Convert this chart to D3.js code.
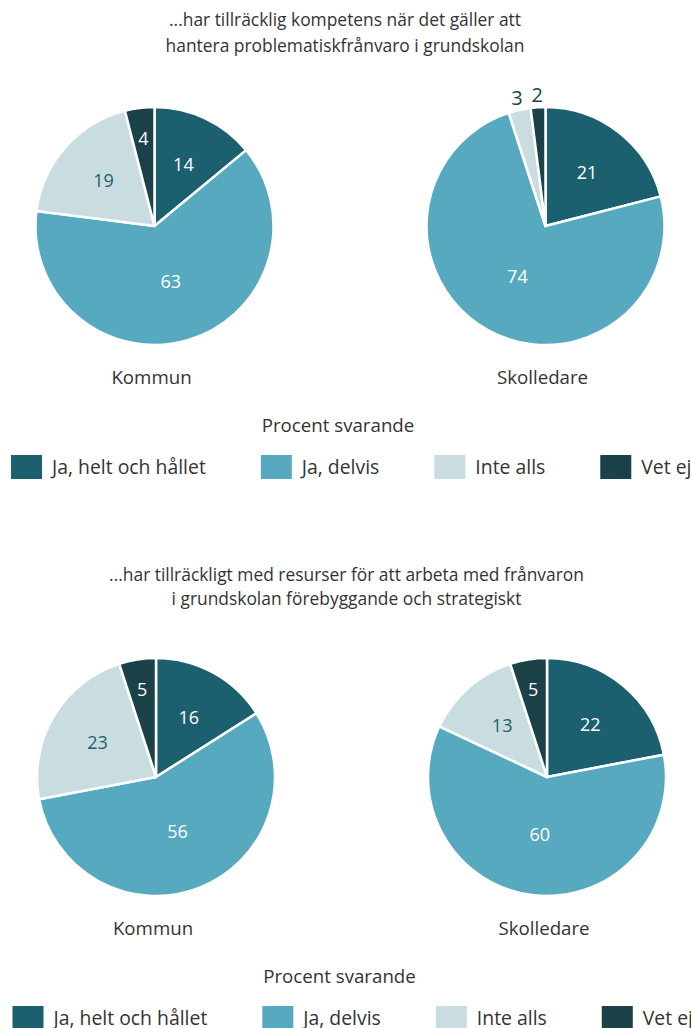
<!DOCTYPE html>
<html>
<head>
<meta charset="utf-8">
<script src="https://cdn.jsdelivr.net/npm/d3@7"></script>
<style>
  body { margin: 0; background: #fff; }
  svg { display: block; font-family: "Open Sans", "Noto Sans", sans-serif; }
</style>
</head>
<body>
<div id="chart"></div>
<script>
const width = 691;
const height = 1028;

const categories = ["Ja, helt och hållet", "Ja, delvis", "Inte alls", "Vet ej"];
const colors = ["#1c6070", "#57a9c0", "#c9dde1", "#1a4248"];
const labelColors = ["#ffffff", "#ffffff", "#1c6070", "#ffffff"];
const groups = ["Kommun", "Skolledare"];

const kompetensKommun = [14, 63, 19, 4];
const kompetensSkolledare = [21, 74, 3, 2];
const resurserKommun = [16, 56, 23, 5];
const resurserSkolledare = [22, 60, 13, 5];

const kompetensTitle = ["...har tillräcklig kompetens när det gäller att", "hantera problematiskfrånvaro i grundskolan"];
const resurserTitle = ["...har tillräckligt med resurser för att arbeta med frånvaron", "i grundskolan förebyggande och strategiskt"];
const unitLabel = "Procent svarande";

const radius = 119;
const textColor = "#333333";

const svg = d3.select('#chart')
  .append('svg')
  .attr('width', width)
  .attr('height', height);

const pie = d3.pie().sort(null).value((d) => d);
const arc = d3.arc().innerRadius(0).outerRadius(radius);

// where to put a slice label, depending on slice size
const labelRadius = (v) => v < 4 ? radius + 12 : v < 10 ? radius * 0.74 : v < 50 ? radius * 0.57 : radius * 0.49;

const drawPie = (g, values) => {
  const slices = pie(values);
  g.selectAll('path')
    .data(slices)
    .enter()
    .append('path')
    .attr('d', arc)
    .attr('fill', (d, i) => colors[i])
    .attr('stroke', '#fff')
    .attr('stroke-width', 2.5)
    .attr('stroke-linejoin', 'round');

  g.selectAll('text.val')
    .data(slices)
    .enter()
    .append('text')
    .attr('class', 'val')
    .attr('transform', (d) => {
      const a = (d.startAngle + d.endAngle) / 2;
      const r = labelRadius(d.value);
      return `translate(${Math.sin(a) * r},${-Math.cos(a) * r})`;
    })
    .attr('dy', '0.35em')
    .attr('text-anchor', 'middle')
    .attr('font-size', (d) => d.value < 4 ? 20 : 18)
    .attr('fill', (d, i) => d.value < 4 ? '#1a4248' : labelColors[i])
    .text((d) => d.value);
};

const drawLegend = (g) => {
  let x = 0;
  categories.forEach((c, i) => {
    g.append('rect')
      .attr('x', x)
      .attr('y', -12)
      .attr('width', 31)
      .attr('height', 24)
      .attr('fill', colors[i]);
    const t = g.append('text')
      .attr('x', x + 41)
      .attr('dy', '0.35em')
      .attr('font-size', 19.4)
      .attr('fill', textColor)
      .text(c);
    x = x + 41 + t.node().getComputedTextLength() + 55;
  });
};

const drawPanel = (top, title, kommun, skolledare, shift, titleShift) => {
  const p = svg.append('g').attr('transform', `translate(${shift},${top})`);

  p.selectAll('text.title')
    .data(title)
    .enter()
    .append('text')
    .attr('class', 'title')
    .attr('x', 345)
    .attr('y', (d, i) => 26 + titleShift + i * (26 - titleShift / 2))
    .attr('text-anchor', 'middle')
    .attr('font-size', 17.4)
    .attr('fill', textColor)
    .text((d) => d);

  const centers = [154.5, 545.5];
  [kommun, skolledare].forEach((vals, k) => {
    const g = p.append('g').attr('transform', `translate(${centers[k]},226)`);
    drawPie(g, vals);
    p.append('text')
      .attr('x', centers[k] - 3)
      .attr('y', 377)
      .attr('dy', '0.35em')
      .attr('text-anchor', 'middle')
      .attr('font-size', 18.7)
      .attr('fill', textColor)
      .text(groups[k]);
  });

  p.append('text')
    .attr('x', 338)
    .attr('y', 425)
    .attr('dy', '0.35em')
    .attr('text-anchor', 'middle')
    .attr('font-size', 18.7)
    .attr('fill', textColor)
    .text(unitLabel);

  drawLegend(p.append('g').attr('transform', 'translate(11,467)'));
};

drawPanel(0, kompetensTitle, kompetensKommun, kompetensSkolledare, 0, 0);
drawPanel(551, resurserTitle, resurserKommun, resurserSkolledare, 1.5, 4);
</script>
</body>
</html>
